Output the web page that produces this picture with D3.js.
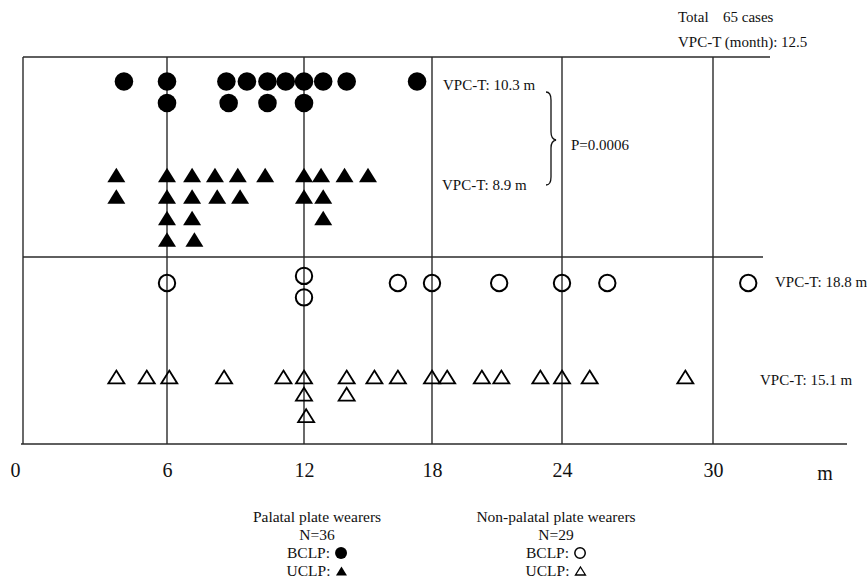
<!DOCTYPE html>
<html>
<head>
<meta charset="utf-8">
<script src="https://cdn.jsdelivr.net/npm/d3@7/dist/d3.min.js"></script>
<style>
  html, body { margin: 0; padding: 0; background: #fff; }
  svg { display: block; }
  text { font-family: "Liberation Serif", "Times New Roman", serif; fill: #111; }
</style>
</head>
<body>
<svg id="chart" width="867" height="579"></svg>
<script>
// ---------- data: [month, stack level within its row] ----------
const palatalBCLP = [
  [4.3,0],[6.0,0],[8.6,0],[9.5,0],[10.4,0],[11.2,0],[12.0,0],[12.9,0],[14.0,0],[17.3,0],
  [6.0,1],[8.7,1],[10.4,1],[12.0,1]
];
const palatalUCLP = [
  [4.0,0],[6.0,0],[7.1,0],[8.1,0],[9.1,0],[10.3,0],[12.0,0],[12.8,0],[13.9,0],[15.0,0],
  [4.0,1],[6.0,1],[7.1,1],[8.2,1],[9.2,1],[12.0,1],[12.9,1],
  [6.0,2],[7.1,2],[12.9,2],
  [6.0,3],[7.2,3]
];
const nonPalatalBCLP = [
  [6.0,0],[12.0,-0.33],[12.0,0.67],[16.4,0],[18.0,0],[21.1,0],[24.0,0],[25.8,0],[31.4,0]
];
const nonPalatalUCLP = [
  [4.0,0],[5.2,0],[6.1,0],[8.5,0],[11.1,0],[12.0,0],[14.0,0],[15.3,0],[16.4,0],
  [18.0,0],[18.7,0],[20.3,0],[21.2,0],[23.0,0],[24.0,0],[25.1,0],[28.9,0],
  [12.0,0.8],[14.0,0.8],[12.1,1.8]
];
const tickMonths = [0, 6, 12, 18, 24, 30];
const gridMonths = [6, 12, 18, 24, 30];
const totalCases = 65;
const overallVPCT = 12.5;
const vpcT = [10.3, 8.9, 18.8, 15.1];   // palatal BCLP, palatal UCLP, non-palatal BCLP, non-palatal UCLP
const pValue = "0.0006";
const groupNames = ["Palatal plate wearers", "Non-palatal plate wearers"];
const groupN = [36, 29];

// ---------- layout ----------
const svg = d3.select("#chart");
const frame = { left: 23, top: 57, mid: 257, bottom: 444 };
const x = d3.scaleLinear().domain(tickMonths).range([15, 167, 304, 432, 562, 713]);
const rowBase = [81.5, 175, 283, 377];
const stackStep = 21.5;
const y = (row, level) => rowBase[row] + level * stackStep;
const lineColor = "#2a2a2a";

// custom bbox-centred triangle symbol
const triType = {
  draw(ctx, size) {
    const w = Math.sqrt(size), h = w * 0.8;
    ctx.moveTo(0, -h / 2);
    ctx.lineTo(w / 2, h / 2);
    ctx.lineTo(-w / 2, h / 2);
    ctx.closePath();
  }
};

// ---------- frame lines ----------
const g = svg.append("g");
g.append("line").attr("x1", frame.left).attr("x2", 770).attr("y1", frame.top).attr("y2", frame.top);
g.append("line").attr("x1", frame.left).attr("x2", 763).attr("y1", frame.mid).attr("y2", frame.mid);
g.append("line").attr("x1", 21).attr("x2", 847).attr("y1", frame.bottom).attr("y2", frame.bottom);
g.append("line").attr("x1", frame.left).attr("x2", frame.left).attr("y1", frame.top).attr("y2", frame.bottom);
g.selectAll("line.grid").data(gridMonths).join("line").attr("class", "grid")
  .attr("x1", d => x(d)).attr("x2", d => x(d))
  .attr("y1", frame.top).attr("y2", frame.bottom);
g.selectAll("line").attr("stroke", lineColor).attr("stroke-width", 1.4);

// ---------- axis ----------
const axis = svg.append("g").attr("transform", `translate(0,${frame.bottom})`)
  .call(d3.axisBottom(x).tickValues(tickMonths).tickSize(0).tickPadding(19).tickFormat(d3.format("d")));
axis.select(".domain").remove();
axis.selectAll("text").attr("font-family", "Liberation Serif, serif").attr("font-size", 20).attr("fill", "#111");
svg.append("text").attr("x", 825).attr("y", 480).attr("text-anchor", "middle")
  .attr("font-size", 20).text("m");

// ---------- marks ----------
const marks = svg.append("g");
marks.selectAll("circle.pb").data(palatalBCLP).join("circle").attr("class", "pb")
  .attr("cx", d => x(d[0])).attr("cy", d => y(0, d[1])).attr("r", 9.3).attr("fill", "#000");
marks.selectAll("path.pu").data(palatalUCLP).join("path").attr("class", "pu")
  .attr("transform", d => `translate(${x(d[0])},${y(1, d[1])})`)
  .attr("d", d3.symbol().type(triType).size(18 * 18)).attr("fill", "#000");
marks.selectAll("circle.nb").data(nonPalatalBCLP).join("circle").attr("class", "nb")
  .attr("cx", d => x(d[0])).attr("cy", d => y(2, d[1])).attr("r", 8.2)
  .attr("fill", "none").attr("stroke", "#000").attr("stroke-width", 2);
marks.selectAll("path.nu").data(nonPalatalUCLP).join("path").attr("class", "nu")
  .attr("transform", d => `translate(${x(d[0])},${y(3, d[1])})`)
  .attr("d", d3.symbol().type(triType).size(16 * 16))
  .attr("fill", "none").attr("stroke", "#000").attr("stroke-width", 1.8).attr("stroke-linejoin", "miter");

// ---------- annotations ----------
const fs = 15;
svg.append("text").attr("x", 678).attr("y", 22).attr("font-size", fs).text("Total");
svg.append("text").attr("x", 723).attr("y", 22).attr("font-size", fs).text(`${totalCases} cases`);
svg.append("text").attr("x", 678).attr("y", 47).attr("font-size", fs).text(`VPC-T (month): ${overallVPCT}`);
svg.append("text").attr("x", 443).attr("y", 90).attr("font-size", fs).text(`VPC-T: ${vpcT[0]} m`);
svg.append("text").attr("x", 442).attr("y", 190).attr("font-size", fs).text(`VPC-T: ${vpcT[1]} m`);
svg.append("text").attr("x", 775).attr("y", 287).attr("font-size", fs).text(`VPC-T: ${vpcT[2]} m`);
svg.append("text").attr("x", 760).attr("y", 385).attr("font-size", fs).text(`VPC-T: ${vpcT[3]} m`);
svg.append("text").attr("x", 571).attr("y", 150).attr("font-size", fs).text(`P=${pValue}`);

// brace
const bp = d3.path();
bp.moveTo(546, 92);
bp.quadraticCurveTo(551, 92, 551, 100);
bp.lineTo(551, 132);
bp.quadraticCurveTo(551, 139, 556, 140);
bp.quadraticCurveTo(551, 141, 551, 148);
bp.lineTo(551, 177);
bp.quadraticCurveTo(551, 185, 546, 185);
svg.append("path").attr("d", bp.toString()).attr("fill", "none")
  .attr("stroke", "#111").attr("stroke-width", 1.3);

// ---------- legend ----------
const legendCenters = [317, 556];
const lfs = 15.5;
const legendBase = [522, 540, 558, 576];
legendCenters.forEach((cx, gi) => {
  svg.append("text").attr("x", cx).attr("y", legendBase[0]).attr("text-anchor", "middle")
    .attr("font-size", lfs).text(groupNames[gi]);
  svg.append("text").attr("x", cx).attr("y", legendBase[1]).attr("text-anchor", "middle")
    .attr("font-size", lfs).text(`N=${groupN[gi]}`);
  ["BCLP:", "UCLP:"].forEach((lab, li) => {
    const by = legendBase[2 + li];
    const t = svg.append("text").attr("y", by).attr("font-size", lfs).text(lab);
    const tw = t.node().getComputedTextLength();
    const symW = 12, gap = 5;
    const start = cx - (tw + gap + symW) / 2;
    t.attr("x", start);
    const sx = start + tw + gap + symW / 2, sy = by - 5;
    const filled = gi === 0;
    if (li === 0) {
      svg.append("circle").attr("cx", sx).attr("cy", sy).attr("r", filled ? 6 : 5.2)
        .attr("fill", filled ? "#000" : "none").attr("stroke", "#000").attr("stroke-width", filled ? 0 : 1.5);
    } else {
      svg.append("path").attr("transform", `translate(${sx},${sy})`)
        .attr("d", d3.symbol().type(triType).size(filled ? 121 : 100))
        .attr("fill", filled ? "#000" : "none").attr("stroke", "#000").attr("stroke-width", filled ? 0 : 1.3);
    }
  });
});
</script>
</body>
</html>
